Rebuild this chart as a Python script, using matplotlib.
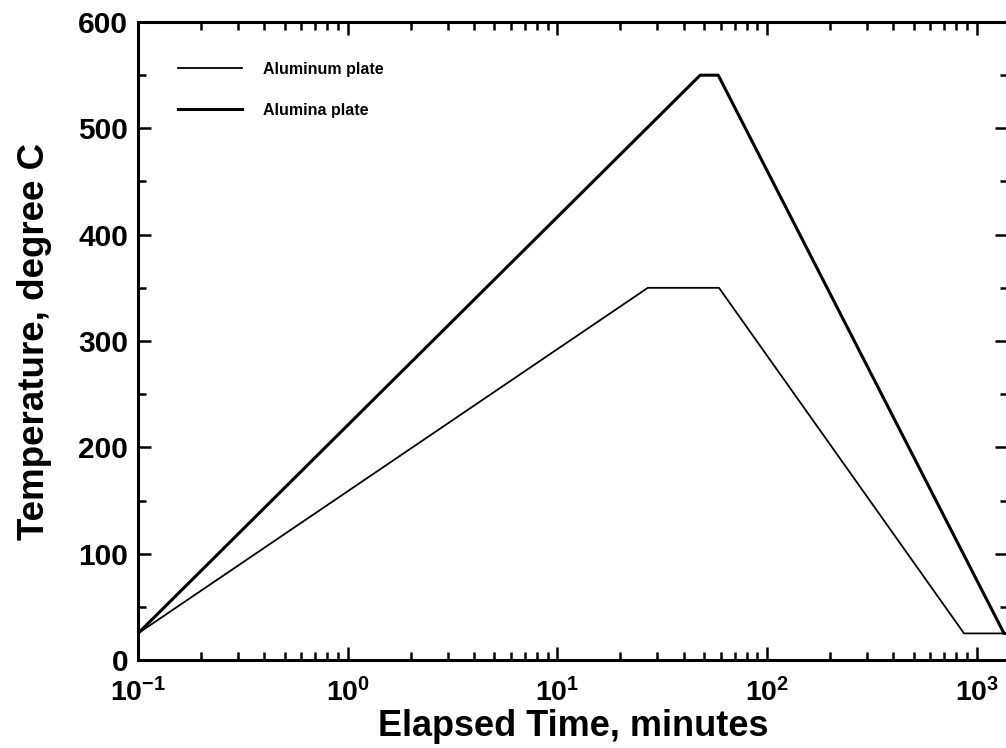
import matplotlib
matplotlib.use("Agg")
import matplotlib.pyplot as plt
from matplotlib.ticker import LogLocator, MultipleLocator, NullFormatter

plt.rcParams['font.family'] = ['Liberation Sans', 'DejaVu Sans']
plt.rcParams['font.weight'] = 'bold'
plt.rcParams['mathtext.fontset'] = 'custom'
plt.rcParams['mathtext.rm'] = 'Liberation Sans:bold'
plt.rcParams['mathtext.bf'] = 'Liberation Sans:bold'
plt.rcParams['mathtext.it'] = 'Liberation Sans:bold'
plt.rcParams['axes.unicode_minus'] = False

# Data (time in minutes, temperature in degree C)
aluminum_time = [0.1, 27, 59, 870, 1500]
aluminum_temp = [25, 350, 350, 25, 25]
alumina_time = [0.1, 48, 58.5, 1350, 1500]
alumina_temp = [25, 550, 550, 25, 25]

labels = ["Aluminum plate", "Alumina plate"]

fig = plt.figure(figsize=(10.06, 7.48), dpi=100)
W, H = 1006, 748
left, right, top, bottom = 138, 1008, 22, 660
ax = fig.add_axes([left / W, 1 - bottom / H, (right - left) / W, (bottom - top) / H])

ax.plot(aluminum_time, aluminum_temp, color='black', lw=1.3, label=labels[0])
ax.plot(alumina_time, alumina_temp, color='black', lw=2.2, label=labels[1])

ax.set_xscale('log')
ax.set_xlim(0.1, 1410)
ax.set_ylim(0, 600)

ax.xaxis.set_major_locator(LogLocator(base=10, numticks=10))
ax.xaxis.set_minor_locator(LogLocator(base=10, subs=range(2, 10), numticks=20))
ax.xaxis.set_minor_formatter(NullFormatter())
ax.yaxis.set_major_locator(MultipleLocator(100))
ax.yaxis.set_minor_locator(MultipleLocator(50))

for s in ax.spines.values():
    s.set_linewidth(2.2)

ax.tick_params(which='both', direction='in', top=True, right=True, width=1.8)
ax.tick_params(which='major', length=9.5)
ax.tick_params(which='minor', length=5.5)
ax.tick_params(axis='x', which='major', labelsize=20.5, pad=13)
ax.tick_params(axis='y', which='major', labelsize=21.5, pad=7)
for lab in ax.get_xticklabels() + ax.get_yticklabels():
    lab.set_fontweight('bold')

ax.set_xlabel("Elapsed Time, minutes", fontsize=26, fontweight='bold', labelpad=1)
ax.set_ylabel("Temperature, degree C", fontsize=26.5, fontweight='bold', labelpad=19)

leg = ax.legend(loc='upper left', frameon=False, prop={'size': 11.5, 'weight': 'bold'},
                handlelength=4.0, handletextpad=1.3, labelspacing=1.63,
                bbox_to_anchor=(0.0386, 0.9475), borderaxespad=0)

fig.savefig("out.png", dpi=100)
